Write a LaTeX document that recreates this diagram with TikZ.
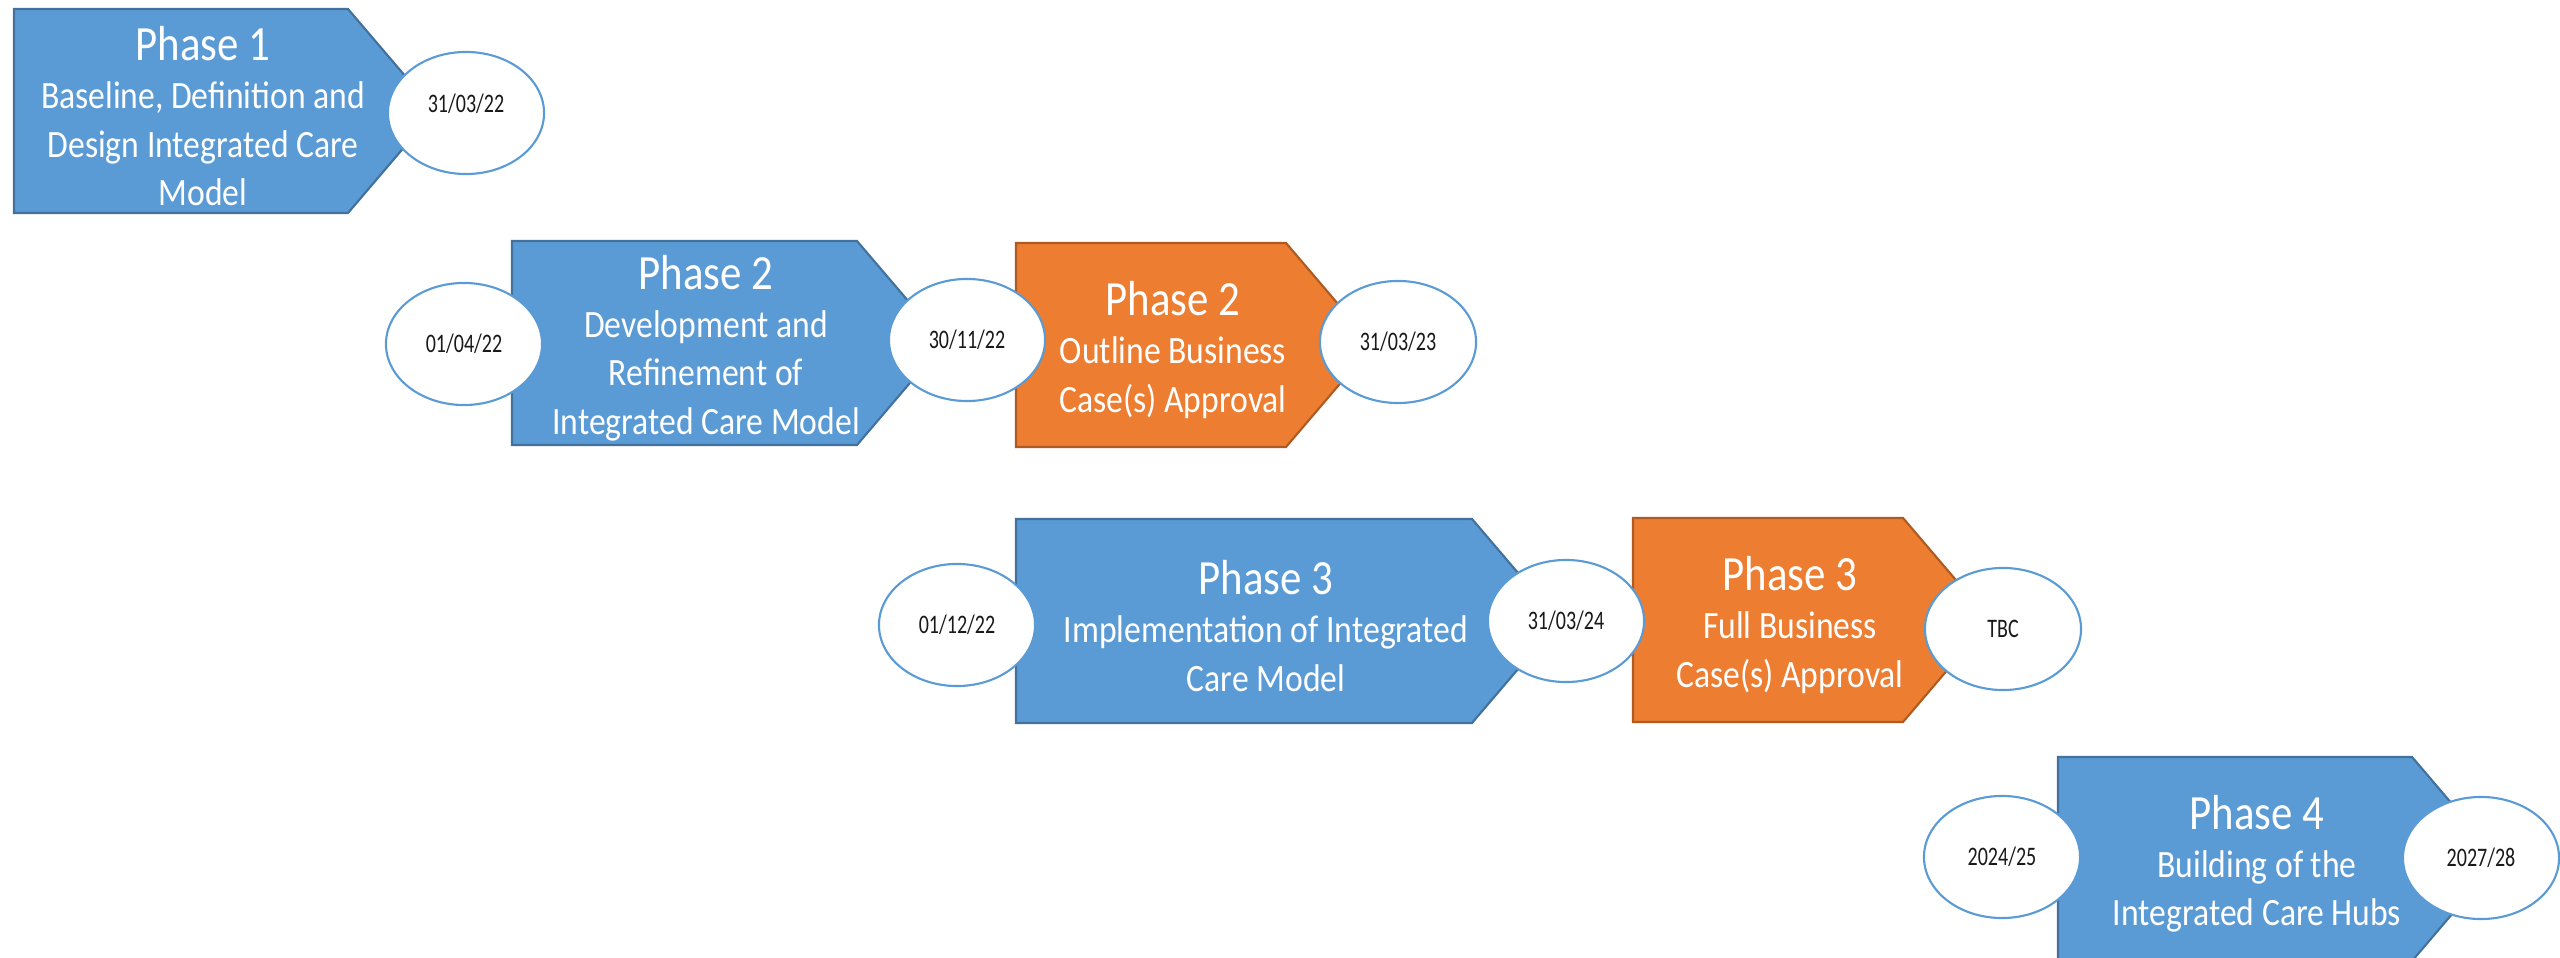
\documentclass[tikz,border=0pt]{standalone}
\usepackage{fontspec}
\setmainfont[FakeStretch=0.87]{Carlito}
\newfontfamily\datefont[FakeStretch=0.75]{Carlito}
\usetikzlibrary{shapes, positioning}

\definecolor{phaseblue}{HTML}{5B9BD5}
\definecolor{phasebluedark}{HTML}{41719C}
\definecolor{phaseorange}{HTML}{ED7D31}
\definecolor{phaseorangedark}{HTML}{AE5A21}
\newcommand{\phtitle}[1]{{\fontsize{14}{14}\selectfont #1}}

\begin{document}
\begin{tikzpicture}[x=0.01cm,y=-0.01cm,
		bluephase/.style={fill=phaseblue,draw=phasebluedark,line width=0.6pt},
		orangephase/.style={fill=phaseorange,draw=phaseorangedark,line width=0.6pt},
		phasetext/.style={text=white,align=center,inner sep=0pt,
			font=\fontsize{11}{13.7}\selectfont},
		datenode/.style={ellipse,draw=phaseblue,fill=white,line width=0.6pt,
			minimum width=1.56cm,minimum height=1.22cm,inner sep=0pt,
			text=black!90,font=\datefont\fontsize{7.6}{8}\selectfont}]
	\useasboundingbox (0,0) rectangle (2560,958);
	\clip (0,0) rectangle (2560,958);
	% phase arrows
	\draw[bluephase] (14,9) -- (348,9) -- (435,111) -- (348,213) -- (14,213) -- cycle;
	\draw[bluephase] (512,241) -- (857,241) -- (944,343) -- (857,445) -- (512,445) -- cycle;
	\draw[orangephase] (1016,243) -- (1286,243) -- (1373,345) -- (1286,447) -- (1016,447) -- cycle;
	\draw[bluephase] (1016,519) -- (1472,519) -- (1559,621) -- (1472,723) -- (1016,723) -- cycle;
	\draw[orangephase] (1633,518) -- (1903,518) -- (1990,620) -- (1903,722) -- (1633,722) -- cycle;
	\draw[bluephase] (2058,757) -- (2412,757) -- (2499,859) -- (2412,961) -- (2058,961) -- cycle;
	% phase texts
	\node[phasetext] (p1text) at (203,116) {\phtitle{Phase 1}\\Baseline, Definition and\\Design Integrated Care\\Model};
	\node[phasetext] (p2text) at (706,348) {\phtitle{Phase 2}\\Development and\\Refinement of\\Integrated Care Model};
	\node[phasetext] (p2otext) at (1173,350) {\phtitle{Phase 2}\\Outline Business\\Case(s) Approval};
	\node[phasetext] (p3text) at (1266,626) {\phtitle{Phase 3}\\Implementation of Integrated\\Care Model};
	\node[phasetext] (p3otext) at (1790,625) {\phtitle{Phase 3}\\Full Business\\Case(s) Approval};
	\node[phasetext] (p4text) at (2257,864) {\phtitle{Phase 4}\\Building of the\\Integrated Care Hubs};
	% dates
	\node[datenode] (p1end) at (466,113) {\raisebox{5.4pt}{31/03/22}};
	\node[datenode] (p2start) at (464,344) {01/04/22};
	\node[datenode] (p2end) at (967,340) {30/11/22};
	\node[datenode] (p2oend) at (1398,342) {31/03/23};
	\node[datenode] (p3start) at (957,625) {01/12/22};
	\node[datenode] (p3end) at (1566,621) {31/03/24};
	\node[datenode] (p3oend) at (2003,629) {TBC};
	\node[datenode] (p4start) at (2002,857) {2024/25};
	\node[datenode] (p4end) at (2481,858) {2027/28};
\end{tikzpicture}
\end{document}
